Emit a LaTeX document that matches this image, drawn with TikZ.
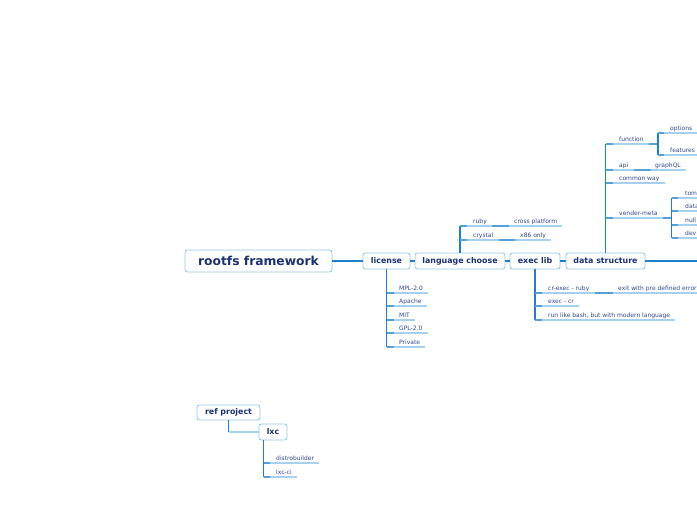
\documentclass[tikz,border=0pt]{standalone}
\usepackage{fontspec}
\setmainfont{DejaVu Sans}
\definecolor{navy}{RGB}{28,50,112}
\definecolor{leaftext}{RGB}{50,72,138}
\definecolor{mainblue}{RGB}{30,128,205}
\definecolor{lightblue}{RGB}{165,208,238}
\definecolor{boxborder}{RGB}{150,200,232}
\tikzset{
 topic/.style={draw=boxborder, line width=0.9pt, rounded corners=2.5pt, fill=white, text=navy,
   font=\bfseries\fontsize{7.9}{9}\selectfont, minimum height=16pt, inner sep=0pt},
 rootbox/.style={topic, font=\bfseries\fontsize{12.3}{14}\selectfont, minimum height=22pt},
 leaf/.style={anchor=south west, inner xsep=0pt, inner ysep=2.5pt, text depth=0pt, text=leaftext,
   font=\fontsize{6}{7}\selectfont},
 trunk/.style={draw=mainblue, line width=2.2pt},
 stem/.style={draw=mainblue, line width=1.3pt},
 twig/.style={draw=lightblue, line width=1.4pt},
 knot/.style={draw=mainblue!75, line width=1.3pt},
}
\begin{document}
\begin{tikzpicture}[x=1pt,y=-1pt]
\useasboundingbox (0,0) rectangle (697,520);
\clip (0,0) rectangle (697,520);

% ---------- topics ----------
\node[rootbox, minimum width=147pt] (root) at (258.5,261) {rootfs framework};
\node[topic, minimum width=47pt] (license) at (386.5,261) {license};
\node[topic, minimum width=90pt] (lang) at (460,261) {language choose};
\node[topic, minimum width=50pt] (exec) at (535,261) {exec lib};
\node[topic, minimum width=79pt] (ds) at (605.5,261) {data structure};
\coordinate (dsout) at (705,261);

\draw[trunk] (root.east) -- (license.west);
\draw[trunk] (license.east) -- (lang.west);
\draw[trunk] (lang.east) -- (exec.west);
\draw[trunk] (exec.east) -- (ds.west);
\draw[trunk] (ds.east) -- (dsout);

% ---------- license ----------
\node[leaf] (mpl) at (399,293) {MPL-2.0};
\node[leaf] (apache) at (399,306) {Apache};
\node[leaf] (mit) at (399,320) {MIT};
\node[leaf] (gpl) at (399,333) {GPL-2.0};
\node[leaf] (priv) at (399,347) {Private};
\draw[stem] (license.south) -- (license.south |- priv.south);
\foreach \n in {mpl,apache,mit,gpl,priv}{
  \draw[twig] (license.south |- \n.south) -- ([xshift=5pt]\n.south east);
  \draw[knot] (license.south |- \n.south) -- ++(7,0);
}

% ---------- language choose ----------
\node[leaf] (ruby) at (473,226) {ruby};
\node[leaf] (cross) at (514,226) {cross platform};
\node[leaf] (crystal) at (473,240) {crystal};
\node[leaf] (x86) at (520,240) {x86 only};
\draw[stem] (lang.north) -- (lang.north |- ruby.south);
\foreach \n/\m in {ruby/cross,crystal/x86}{
  \draw[twig] (lang.north |- \n.south) -- ([xshift=5pt]\n.south east);
  \draw[knot] (lang.north |- \n.south) -- ++(7,0);
  \draw[twig] ([xshift=5pt]\n.south east) -- ([xshift=5pt]\m.south east);
  \draw[knot] ([xshift=5pt]\n.south east) -- ([xshift=-5pt]\m.south west);
}

% ---------- exec lib ----------
\node[leaf] (crexec) at (548,293) {cr-exec - ruby};
\node[leaf] (exiterr) at (618,293) {exit with pre defined error};
\node[leaf] (execcr) at (548,306) {exec - cr};
\node[leaf] (bash) at (548,320) {run like bash, but with modern language};
\draw[stem] (exec.south) -- (exec.south |- bash.south);
\foreach \n in {crexec,execcr,bash}{
  \draw[twig] (exec.south |- \n.south) -- ([xshift=5pt]\n.south east);
  \draw[knot] (exec.south |- \n.south) -- ++(7,0);
}
\draw[twig] ([xshift=5pt]crexec.south east) -- ([xshift=5pt]exiterr.south east);
\draw[knot] ([xshift=5pt]crexec.south east) -- ([xshift=-5pt]exiterr.south west);

% ---------- data structure ----------
\node[leaf] (func) at (619,144) {function};
\node[leaf] (opts) at (670,133) {options};
\node[leaf] (feat) at (670,155) {features};
\node[leaf] (api) at (619,170) {api};
\node[leaf] (gql) at (655,170) {graphQL};
\node[leaf] (common) at (619,183) {common way};
\node[leaf] (vender) at (619,218) {vender-meta};
\node[leaf] (tom) at (685,198) {tom};
\node[leaf] (data) at (685,211) {data};
\node[leaf] (null) at (685,225) {null};
\node[leaf] (dev) at (685,238) {dev};
\draw[stem] (ds.north) -- (ds.north |- func.south);
\foreach \n in {func,api,common,vender}{
  \draw[twig] (ds.north |- \n.south) -- ([xshift=5pt]\n.south east);
  \draw[knot] (ds.north |- \n.south) -- ++(7,0);
}
\draw[twig] ([xshift=5pt]api.south east) -- ([xshift=5pt]gql.south east);
\draw[knot] ([xshift=5pt]api.south east) -- ([xshift=-4pt]gql.south west);
% function sub-branch
\coordinate (fv) at ([xshift=14pt]func.south east);
\draw[knot] ([xshift=5pt]func.south east) -- (fv);
\draw[stem] (fv |- opts.south) -- (fv |- feat.south);
\foreach \n in {opts,feat}{
  \draw[twig] (fv |- \n.south) -- ([xshift=5pt]\n.south east);
  \draw[knot] (fv |- \n.south) -- ++(6,0);
}
% vender-meta sub-branch
\coordinate (vv) at ([xshift=14pt]vender.south east);
\draw[knot] ([xshift=5pt]vender.south east) -- (vv);
\draw[stem] (vv |- tom.south) -- (vv |- dev.south);
\foreach \n in {tom,data,null,dev}{
  \draw[twig] (vv |- \n.south) -- ([xshift=5pt]\n.south east);
  \draw[knot] (vv |- \n.south) -- ++(6,0);
}

% ---------- ref project ----------
\node[topic, minimum width=63pt, minimum height=15pt] (ref) at (228.5,412.5) {ref project};
\node[topic, minimum width=28pt] (lxc) at (273,432) {lxc};
\draw[stem] (ref.south) -- (ref.south |- lxc.west);
\draw[twig] (ref.south |- lxc.west) -- (lxc.west);
\node[leaf] (distro) at (276,463) {distrobuilder};
\node[leaf] (lxcci) at (276,477) {lxc-ci};
\coordinate (lv) at ([xshift=5pt]lxc.south west);
\draw[stem] (lv) -- (lv |- lxcci.south);
\foreach \n in {distro,lxcci}{
  \draw[twig] (lv |- \n.south) -- ([xshift=5pt]\n.south east);
  \draw[knot] (lv |- \n.south) -- ++(6,0);
}
\end{tikzpicture}
\end{document}
